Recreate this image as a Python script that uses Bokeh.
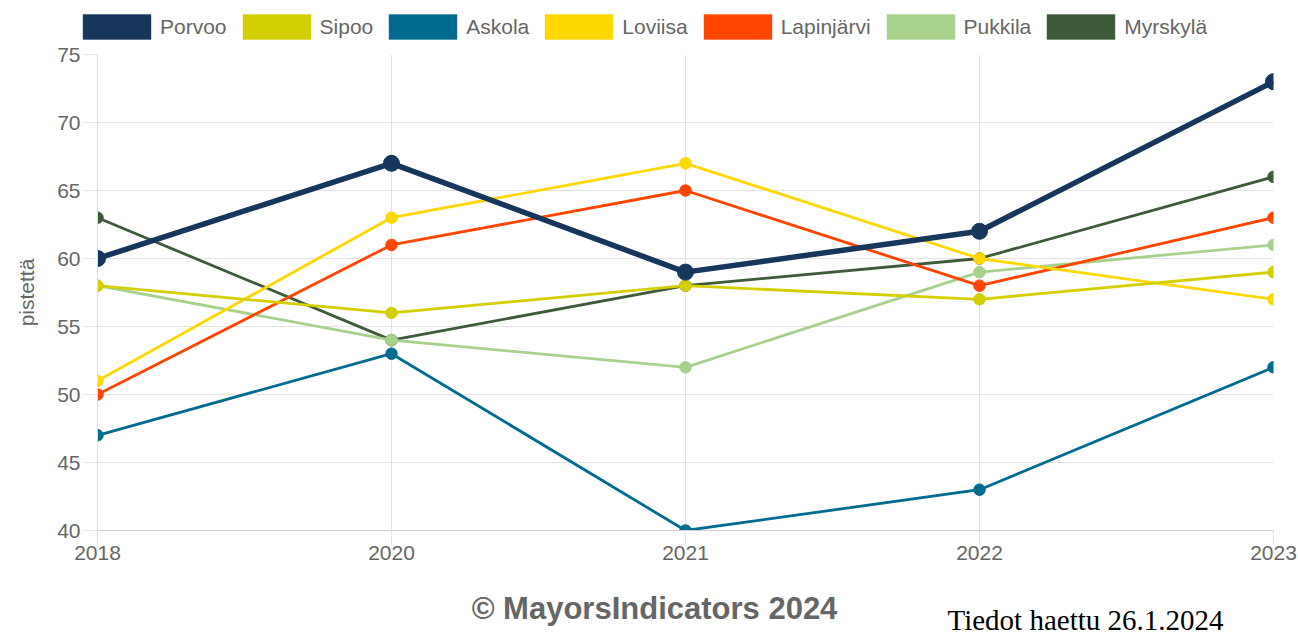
from bokeh.plotting import figure
from bokeh.models import (Range1d, FixedTicker, Legend, LegendItem, Label,
                          ColumnDataSource)
from bokeh.layouts import column
from bokeh.embed import file_html
from bokeh.resources import INLINE

years = ["2018", "2020", "2021", "2022", "2023"]
names = ["Porvoo", "Sipoo", "Askola", "Loviisa", "Lapinjärvi", "Pukkila", "Myrskylä"]
porvoo = [60, 67, 59, 62, 73]
sipoo = [58, 56, 58, 57, 59]
askola = [47, 53, 40, 43, 52]
loviisa = [51, 63, 67, 60, 57]
lapinjarvi = [50, 61, 65, 58, 63]
pukkila = [58, 54, 52, 59, 61]
myrskyla = [63, 54, 58, 60, 66]
series = [porvoo, sipoo, askola, loviisa, lapinjarvi, pukkila, myrskyla]
colors = ["#16365c", "#d4cf00", "#006b8f", "#ffd800", "#ff4500", "#a9d18e", "#3f5a3b"]
y_ticks = [40, 45, 50, 55, 60, 65, 70, 75]

FONT = "Liberation Sans"
GRAY = "#666666"
GRID = "#e4e4e4"
W = 1298


def bare(h):
    f = figure(width=W, height=h, output_backend="svg", toolbar_location=None,
               x_range=Range1d(0, 1), y_range=Range1d(0, 1),
               x_axis_location=None, y_axis_location=None,
               min_border=0, frame_align=False)
    f.outline_line_color = None
    f.xgrid.visible = False
    f.ygrid.visible = False
    return f


xs = list(range(len(years)))

# ---- main chart
p = figure(width=W, height=532, output_backend="svg", toolbar_location=None,
           x_range=Range1d(0, len(years) - 1), y_range=Range1d(40, 75),
           min_border_left=97, min_border_right=25, min_border_top=10,
           min_border_bottom=46, frame_align=False)
p.outline_line_color = None

p.xaxis.ticker = FixedTicker(ticks=xs)
p.xaxis.major_label_overrides = {i: y for i, y in enumerate(years)}
p.yaxis.ticker = FixedTicker(ticks=y_ticks)
for ax in (p.xaxis[0], p.yaxis[0]):
    ax.major_label_text_font = FONT
    ax.major_label_text_font_size = "21px"
    ax.major_label_text_color = GRAY
    ax.major_tick_line_color = GRID
    ax.major_tick_out = 14
    ax.major_tick_in = 0
    ax.minor_tick_line_color = None
p.xaxis.axis_line_color = "#cfcfcf"
p.yaxis.axis_line_color = "#dedede"
p.xaxis.major_label_standoff = 1
p.yaxis.major_label_standoff = 3
p.yaxis.axis_label = "pistettä"
p.yaxis.axis_label_text_font = FONT
p.yaxis.axis_label_text_font_size = "21px"
p.yaxis.axis_label_text_font_style = "normal"
p.yaxis.axis_label_text_color = GRAY
p.yaxis.axis_label_standoff = 16

p.xgrid.grid_line_color = GRID
p.ygrid.grid_line_color = GRID
p.xgrid.ticker = FixedTicker(ticks=xs)
p.ygrid.ticker = FixedTicker(ticks=y_ticks)

# first dataset drawn on top
for i in reversed(range(len(names))):
    src = ColumnDataSource(dict(x=xs, y=series[i]))
    big = i == 0
    p.line("x", "y", source=src, line_color=colors[i], line_width=5.5 if big else 2.8)
    p.scatter("x", "y", source=src, size=16 if big else 11.5, fill_color=colors[i],
              line_color=colors[i], line_width=1)

# ---- legend strip
top = bare(44)
nan = float("nan")
items = []
for i, n in enumerate(names):
    r = top.quad(left=[nan], right=[nan], top=[nan], bottom=[nan],
                 fill_color=colors[i], line_color=colors[i], line_alpha=0.4)
    items.append(LegendItem(label=n, renderers=[r]))
legend = Legend(items=items, orientation="horizontal", location=(74, 2),
                glyph_width=85, glyph_height=31, label_standoff=1, spacing=7,
                label_text_font=FONT, label_text_font_size="21px",
                label_text_color=GRAY, border_line_color=None,
                background_fill_alpha=0, padding=0, margin=0)
top.add_layout(legend)

# ---- footer strip
bottom = bare(58)
bottom.add_layout(Label(x=654, y=26, x_units="screen", y_units="screen",
                        text="© MayorsIndicators 2024", text_align="center",
                        text_baseline="alphabetic", text_font=FONT,
                        text_font_size="31px", text_font_style="bold",
                        text_color=GRAY))
bottom.add_layout(Label(x=947, y=15, x_units="screen", y_units="screen",
                        text="Tiedot haettu 26.1.2024", text_align="left",
                        text_baseline="alphabetic", text_font="Liberation Serif",
                        text_font_size="29px", text_color="black"))

layout = column(top, p, bottom, spacing=0)
open("out.html", "w").write(file_html(layout, INLINE))
